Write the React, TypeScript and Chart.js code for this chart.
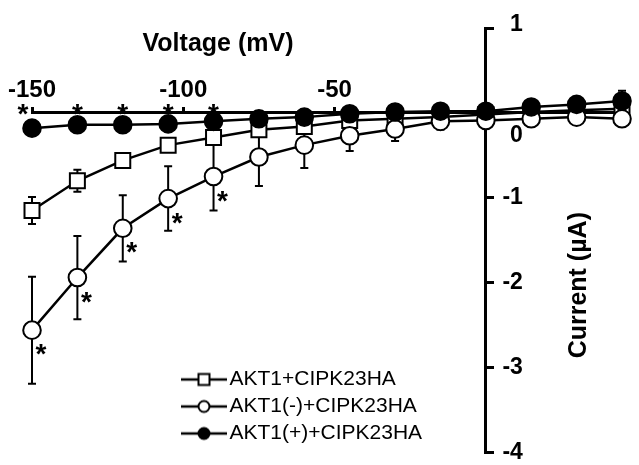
import React, { useEffect, useRef } from 'react';
import { Chart, registerables } from 'chart.js';

Chart.register(...registerables);

// ---------- data ----------
const VOLTAGES = [-150, -135, -120, -105, -90, -75, -60, -45, -30, -15, 0, 15, 30, 45];

const AKT1_CIPK = [-1.15, -0.8, -0.56, -0.38, -0.29, -0.2, -0.16, -0.09, -0.07, -0.05, -0.02, 0.01, 0.03, 0.05];
const AKT1_CIPK_ERR = [0.16, 0.13, 0.05, 0.04, 0.05, 0.04, 0.03, 0.03, 0.02, 0.02, 0.02, 0.02, 0.03, 0.06];

const AKT1_MINUS = [-2.56, -1.94, -1.36, -1.01, -0.75, -0.52, -0.38, -0.27, -0.19, -0.1, -0.09, -0.07, -0.05, -0.07];
const AKT1_MINUS_ERR = [0.63, 0.49, 0.39, 0.38, 0.4, 0.34, 0.27, 0.18, 0.14, 0.1, 0.05, 0.05, 0.05, 0.05];

const AKT1_PLUS = [-0.18, -0.14, -0.14, -0.13, -0.1, -0.07, -0.05, -0.01, 0.01, 0.02, 0.02, 0.07, 0.1, 0.14];
const AKT1_PLUS_ERR = [0.05, 0.04, 0.04, 0.04, 0.04, 0.04, 0.04, 0.04, 0.04, 0.04, 0.04, 0.05, 0.06, 0.12];

const SIG_PLUS = [-150, -135, -120, -105, -90];
const SIG_MINUS = [-150, -135, -120, -105, -90];

const X_TICKS = [-150, -100, -50];
const Y_TICKS = [1, 0, -1, -2, -3, -4];

const SERIES_LABELS = ['AKT1+CIPK23HA', 'AKT1(-)+CIPK23HA', 'AKT1(+)+CIPK23HA'];
const X_TITLE = 'Voltage (mV)';
const Y_TITLE = 'Current (µA)';

// ---------- styling ----------
const FONT = "'Liberation Sans', Arial, Helvetica, sans-serif";
const BLACK = '#000';

function makeLegendIcon(kind: 'rect' | 'open' | 'filled'): HTMLCanvasElement {
  const c = document.createElement('canvas');
  c.width = 58;
  c.height = 16;
  const g = c.getContext('2d') as CanvasRenderingContext2D;
  g.strokeStyle = BLACK;
  g.lineWidth = 2.5;
  g.beginPath();
  g.moveTo(11, 8);
  g.lineTo(57, 8);
  g.stroke();
  g.lineWidth = 2;
  const cx = 34;
  const cy = 8;
  if (kind === 'rect') {
    g.fillStyle = '#fff';
    g.fillRect(cx - 5.5, cy - 5.5, 11, 11);
    g.strokeRect(cx - 5.5, cy - 5.5, 11, 11);
  } else {
    g.beginPath();
    g.arc(cx, cy, 5.5, 0, Math.PI * 2);
    g.fillStyle = kind === 'filled' ? BLACK : '#fff';
    g.fill();
    g.stroke();
  }
  return c;
}

const overlayPlugin = {
  id: 'overlay',
  afterLayout(chart: any) {
    const lg = chart.legend;
    if (lg) {
      const w = lg.width;
      const h = lg.height;
      lg.left = 173;
      lg.top = 363;
      lg.right = lg.left + w;
      lg.bottom = lg.top + h;
    }
  },
  beforeDatasetsDraw(chart: any) {
    const { ctx } = chart;
    const xs = chart.scales.x;
    const ys = chart.scales.y;
    ctx.save();
    ctx.strokeStyle = BLACK;
    ctx.lineWidth = 2;
    chart.data.datasets.forEach((ds: any) => {
      const errs: number[] = ds.errors || [];
      ds.data.forEach((p: any, i: number) => {
        const e = errs[i];
        if (!e) return;
        const x = xs.getPixelForValue(p.x);
        const y1 = ys.getPixelForValue(p.y + e);
        const y2 = ys.getPixelForValue(p.y - e);
        ctx.beginPath();
        ctx.moveTo(x, y1);
        ctx.lineTo(x, y2);
        ctx.moveTo(x - 4, y1);
        ctx.lineTo(x + 4, y1);
        ctx.moveTo(x - 4, y2);
        ctx.lineTo(x + 4, y2);
        ctx.stroke();
      });
    });
    ctx.restore();
  },
  afterDatasetsDraw(chart: any) {
    const { ctx } = chart;
    const xs = chart.scales.x;
    const ys = chart.scales.y;
    ctx.save();
    ctx.fillStyle = BLACK;
    ctx.font = `bold 28px ${FONT}`;
    ctx.textAlign = 'center';
    ctx.textBaseline = 'alphabetic';
    const glyphDrop = 16;
    const y0 = ys.getPixelForValue(0);
    SIG_PLUS.forEach((v) => {
      let x = xs.getPixelForValue(v);
      if (v === xs.min) x -= 9;
      ctx.fillText('*', x, y0 - 6 + glyphDrop);
    });
    SIG_MINUS.forEach((v) => {
      const i = VOLTAGES.indexOf(v);
      const x = xs.getPixelForValue(v) + 9;
      const y = ys.getPixelForValue(AKT1_MINUS[i]) + 17;
      ctx.fillText('*', x, y + glyphDrop);
    });
    ctx.restore();
  },
  afterDraw(chart: any) {
    const { ctx } = chart;
    const xs = chart.scales.x;
    const ys = chart.scales.y;
    const x0 = xs.getPixelForValue(0);
    ctx.save();
    ctx.fillStyle = BLACK;
    ctx.font = `bold 23px ${FONT}`;
    ctx.textAlign = 'right';
    ctx.textBaseline = 'middle';
    ys.ticks.forEach((t: any) => {
      let y = ys.getPixelForValue(t.value);
      if (t.value === 0) y += 23;
      if (t.value === ys.max) y -= 3;
      ctx.fillText(String(t.value), x0 + 37, y);
    });
    ctx.font = `bold 25px ${FONT}`;
    ctx.textAlign = 'center';
    ctx.textBaseline = 'middle';
    ctx.fillText(X_TITLE, chart.chartArea.left + 186, chart.chartArea.top + 16);
    ctx.translate(chart.chartArea.right - 43, (ys.top + ys.bottom) / 2 + 45);
    ctx.rotate(-Math.PI / 2);
    ctx.fillText(Y_TITLE, 0, 0);
    ctx.restore();
  },
};

export default function App() {
  const canvasRef = useRef<HTMLCanvasElement | null>(null);

  useEffect(() => {
    const canvas = canvasRef.current;
    if (!canvas) return;
    const toPoints = (ys: number[]) => VOLTAGES.map((x, i) => ({ x, y: ys[i] }));
    const icons = [makeLegendIcon('rect'), makeLegendIcon('open'), makeLegendIcon('filled')];

    const common = {
      borderColor: BLACK,
      borderWidth: 2.5,
      pointBorderColor: BLACK,
      pointBorderWidth: 2,
      tension: 0,
      clip: false as const,
    };

    const chart = new Chart(canvas, {
      type: 'line',
      data: {
        datasets: [
          {
            ...common,
            label: SERIES_LABELS[2],
            data: toPoints(AKT1_PLUS),
            errors: AKT1_PLUS_ERR,
            pointStyle: 'circle',
            pointRadius: 8.8,
            pointBackgroundColor: BLACK,
          } as any,
          {
            ...common,
            label: SERIES_LABELS[1],
            data: toPoints(AKT1_MINUS),
            errors: AKT1_MINUS_ERR,
            pointStyle: 'circle',
            pointRadius: 8.8,
            pointBackgroundColor: '#fff',
          } as any,
          {
            ...common,
            label: SERIES_LABELS[0],
            data: toPoints(AKT1_CIPK),
            errors: AKT1_CIPK_ERR,
            pointStyle: 'rect',
            pointRadius: 10.6,
            pointBackgroundColor: '#fff',
          } as any,
        ],
      },
      options: {
        responsive: false,
        animation: false,
        devicePixelRatio: 1,
        events: [],
        layout: { padding: { left: 32, top: 28, right: 17, bottom: 7 } },
        plugins: {
          legend: {
            position: 'chartArea' as any,
            align: 'start',
            labels: {
              usePointStyle: true,
              pointStyleWidth: 40,
              padding: 6,
              color: BLACK,
              font: { size: 21, family: FONT },
              generateLabels: () =>
                SERIES_LABELS.map((text, k) => ({
                  text,
                  pointStyle: icons[k] as any,
                  fillStyle: '#fff',
                  strokeStyle: BLACK,
                  lineWidth: 0,
                  hidden: false,
                  datasetIndex: 2 - k,
                })),
            },
          },
          tooltip: { enabled: false },
        },
        scales: {
          x: {
            type: 'linear',
            min: VOLTAGES[0],
            max: VOLTAGES[VOLTAGES.length - 1],
            position: { y: 0 } as any,
            afterBuildTicks: (s: any) => {
              s.ticks = X_TICKS.map((value) => ({ value }));
            },
            afterFit: (s: any) => {
              s.height = 0;
            },
            border: { display: true, color: BLACK, width: 3 },
            grid: { drawOnChartArea: false, drawTicks: true, tickLength: -7, tickWidth: 3, tickColor: BLACK },
            ticks: {
              color: BLACK,
              font: { size: 24, weight: 'bold', family: FONT },
              padding: -30,
              autoSkip: false,
              maxRotation: 0,
            },
          },
          y: {
            type: 'linear',
            min: Y_TICKS[Y_TICKS.length - 1],
            max: Y_TICKS[0],
            position: { x: 0 } as any,
            afterBuildTicks: (s: any) => {
              s.ticks = Y_TICKS.map((value) => ({ value }));
            },
            afterFit: (s: any) => {
              s.width = 0;
            },
            border: { display: true, color: BLACK, width: 3 },
            grid: { drawOnChartArea: false, drawTicks: true, tickLength: -10, tickWidth: 3, tickColor: BLACK },
            ticks: { display: false },
          },
        },
      } as any,
      plugins: [overlayPlugin],
    });

    return () => chart.destroy();
  }, []);

  return (
    <div style={{ position: 'fixed', left: 0, top: 0, width: 639, height: 465, background: '#fff' }}>
      <canvas ref={canvasRef} width={639} height={465} style={{ display: 'block' }} />
    </div>
  );
}
